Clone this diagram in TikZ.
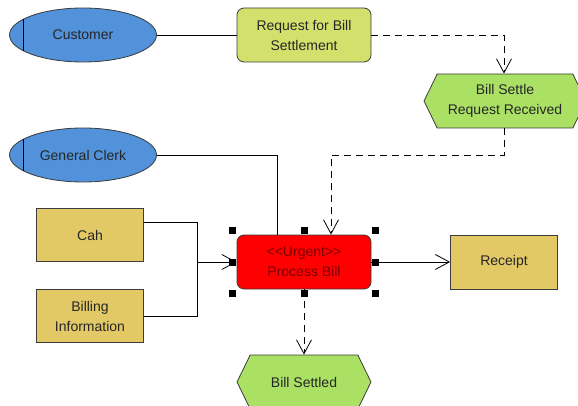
\documentclass[tikz,border=0pt]{standalone}
\usepackage{fontspec}
\setmainfont{Liberation Sans}
\usetikzlibrary{shapes.geometric,shapes.symbols,arrows.meta}
\definecolor{actorblue}{RGB}{82,146,218}
\definecolor{infogreen}{RGB}{212,224,108}
\definecolor{eventgreen}{RGB}{170,224,100}
\definecolor{dockhaki}{RGB}{226,201,102}
\definecolor{urgentred}{RGB}{255,0,0}
\definecolor{urgenttext}{RGB}{120,0,0}
\definecolor{edgegray}{RGB}{60,60,60}
\begin{document}
\begin{tikzpicture}[x=1pt,y=-1pt,
    font=\fontsize{14}{20}\selectfont, text=black!85,
    every node/.style={draw=edgegray,line width=0.8pt,align=center,inner sep=0pt},
    actor/.style={ellipse,fill=actorblue,minimum width=147pt,minimum height=54pt},
    info/.style={rectangle,rounded corners=7pt,fill=infogreen,minimum width=134pt,minimum height=54pt},
    event/.style={signal,signal to=west and east,signal pointer angle=128,fill=eventgreen,minimum width=162pt,minimum height=54pt},
    doc/.style={rectangle,fill=dockhaki,minimum width=107pt,minimum height=53pt},
    handle/.style={rectangle,fill=black,draw=none,minimum size=7pt},
    flow/.style={line width=0.8pt,-{Straight Barb[length=14pt,width=15pt]}},
    link/.style={line width=0.8pt}]
\useasboundingbox (0,0) rectangle (578,406);
\node[actor] (cust) at (83,35) {Customer};
\node[actor] (clerk) at (83,155) {General Clerk};
\draw[link] (cust.165) -- (cust.195);
\draw[link] (clerk.165) -- (clerk.195);
\node[info] (req) at (304,35) {Request for Bill\\Settlement};
\node[event] (recv) at (505,101) {Bill Settle\\Request Received};
\node[info,fill=urgentred,text=urgenttext] (proc) at (304,262) {{<}{<}Urgent{>}{>}\\Process Bill};
\node[doc] (cah) at (90,235) {Cah};
\node[doc] (bill) at (90,316) {Billing\\Information};
\node[doc,minimum height=54pt] (rcpt) at (504,262) {Receipt};
\node[event,minimum width=134pt] (settled) at (304,382) {Bill Settled};
\coordinate (merge) at (197,262);
% connectors
\draw[link] (cust.east) -- (req.west);
\draw[flow,dashed,dash pattern=on 7pt off 5pt] (req.east) -| ([xshift=-1pt]recv.north);
\draw[flow,dashed,dash pattern=on 7pt off 5pt] ([xshift=-1pt]recv.south) -- ++(0,27) -| ([xshift=27pt]proc.north);
\draw[link] (clerk.east) -| ([xshift=-27pt]proc.north);
\draw[link] ([yshift=13pt]cah.east) -| (merge);
\draw[link] (bill.east) -| (merge);
\draw[flow] (merge) -- (proc.west);
\draw[flow] (proc.east) -- (rcpt.west);
\draw[flow,dashed,dash pattern=on 7pt off 5pt] (proc.south) -- (settled.north);
% selection handles
\foreach \a/\dx/\dy in {north west/-4/-4, north/0/-4, north east/4/-4, west/-4/0,
    east/4/0, south west/-4/4, south/0/4, south east/4/4}
    \node[handle] at ([shift={(\dx,\dy)}]proc.\a) {};
\end{tikzpicture}
\end{document}
